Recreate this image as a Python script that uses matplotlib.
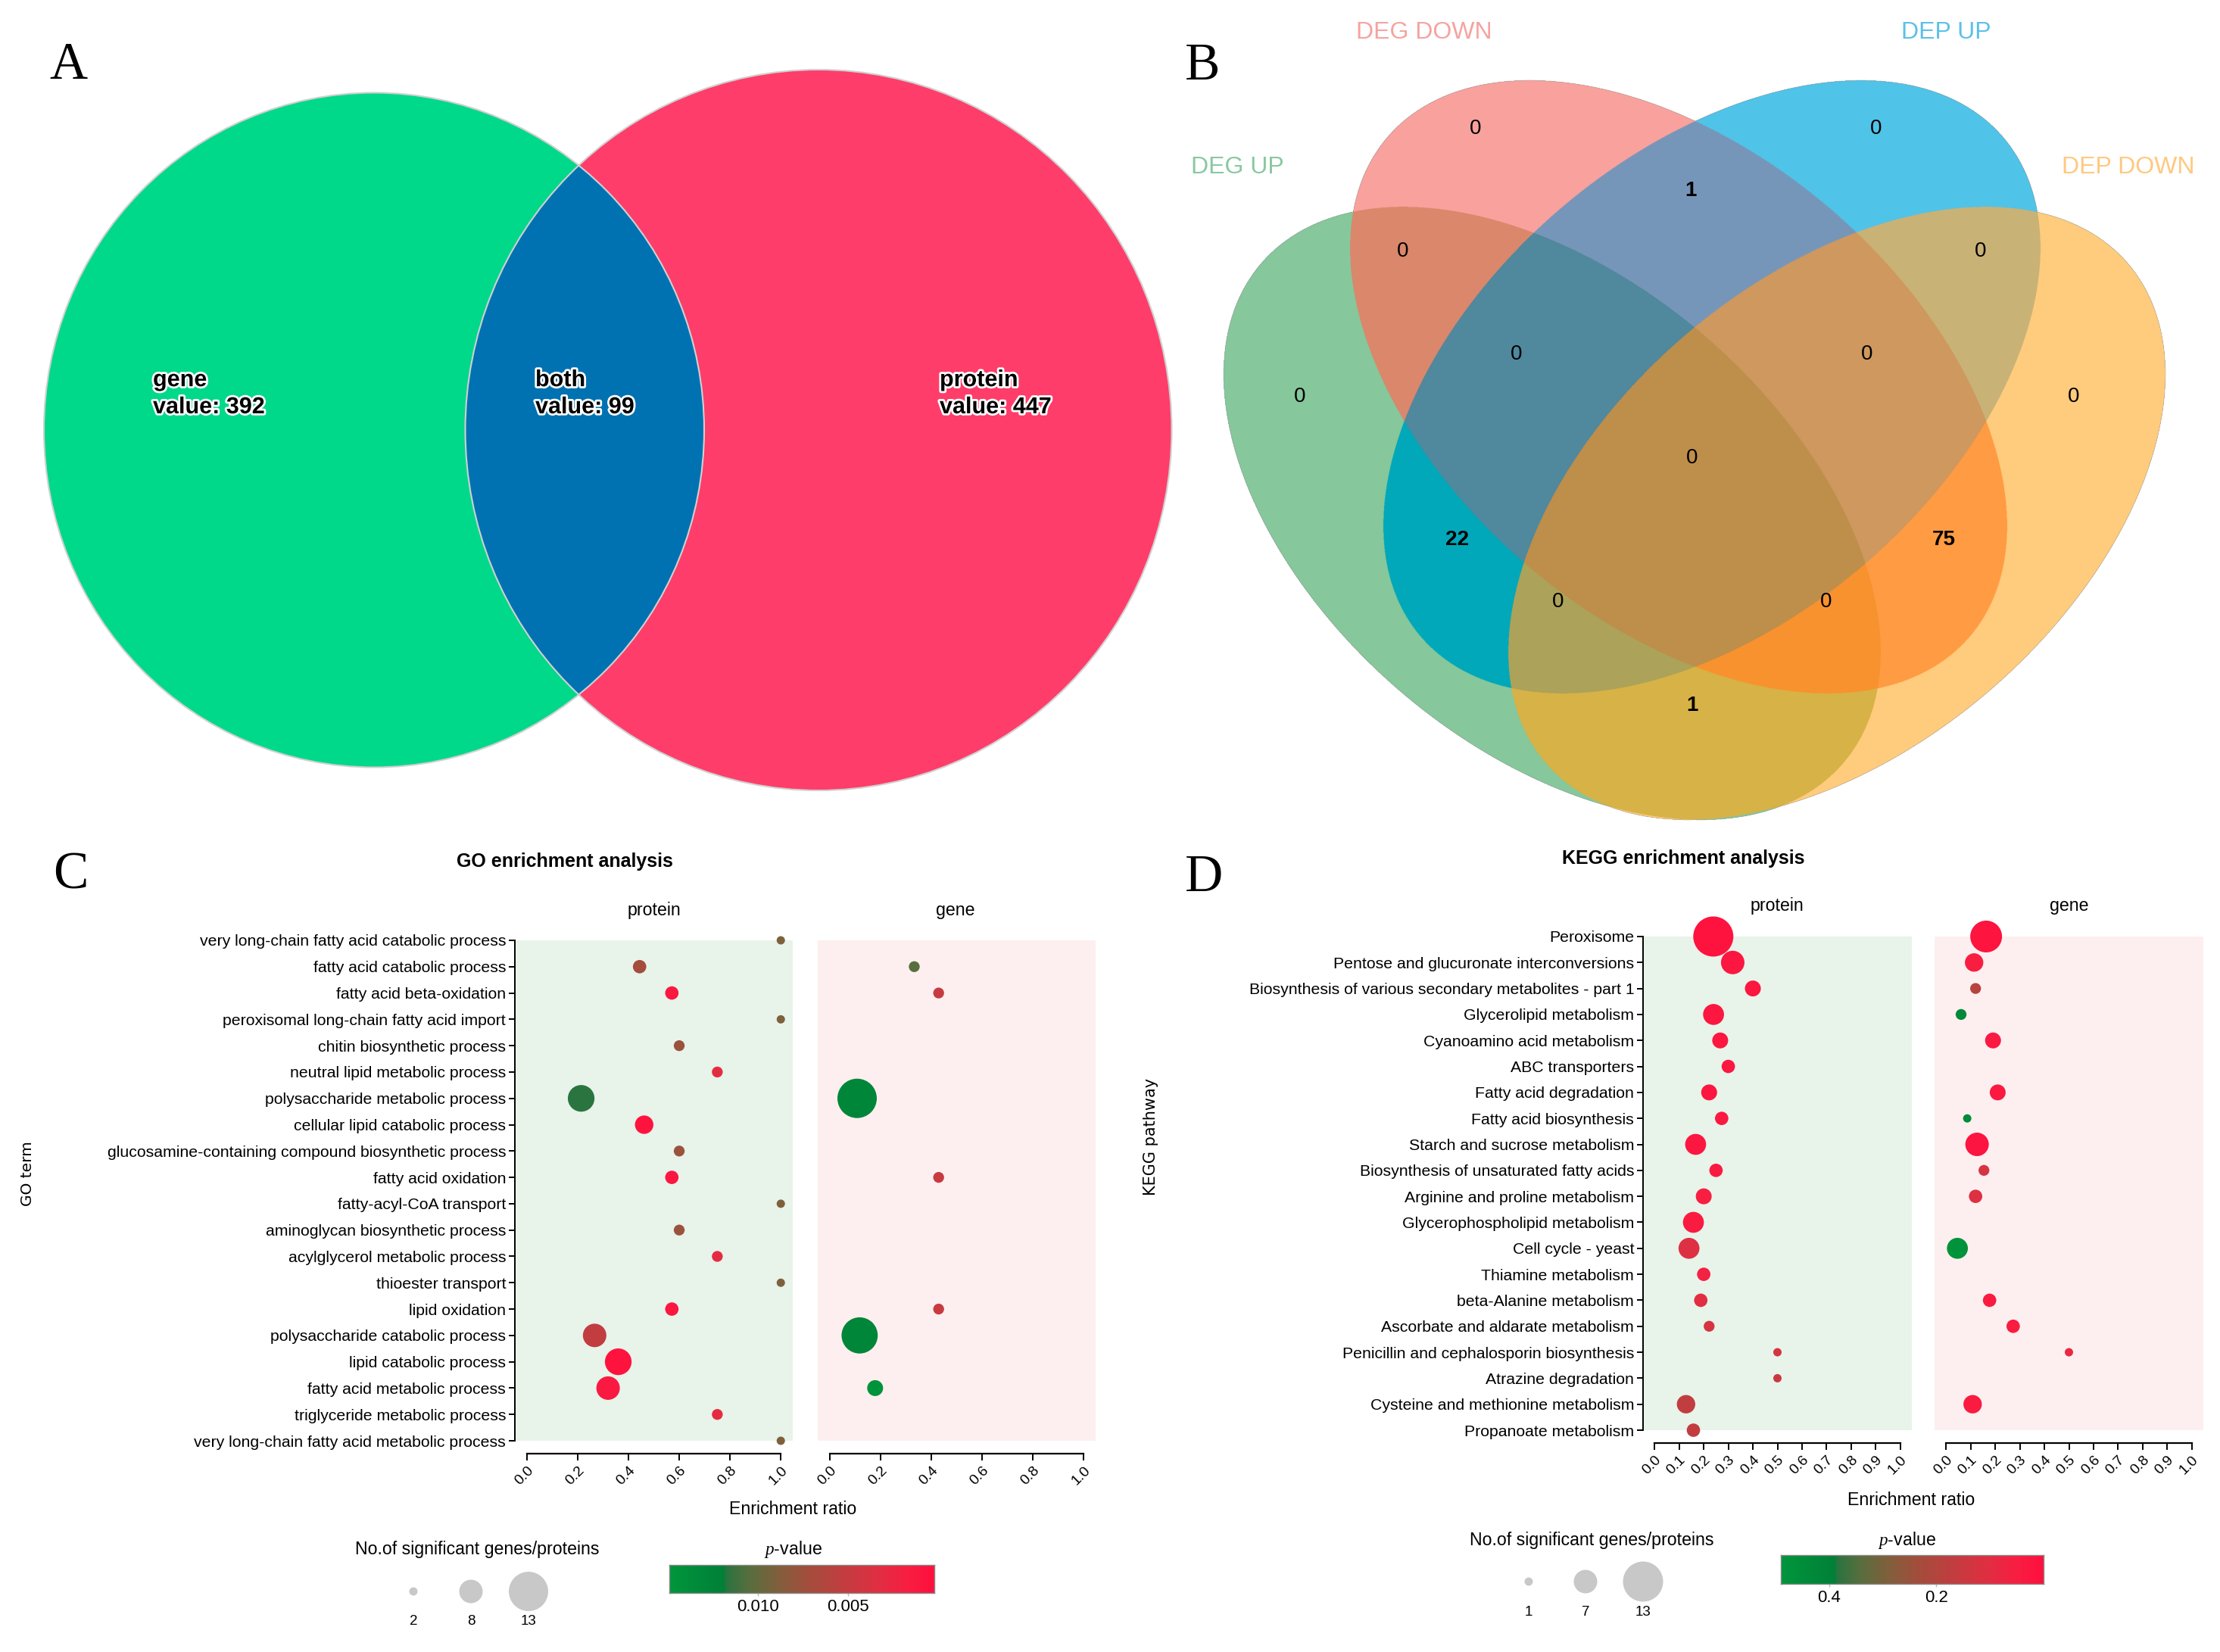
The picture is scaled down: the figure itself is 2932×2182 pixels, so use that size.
import numpy as np
import matplotlib.pyplot as plt
import matplotlib.patheffects as pe
from matplotlib.patches import Ellipse
from matplotlib.colors import LinearSegmentedColormap, Normalize, to_rgba

plt.rcParams['font.family'] = ['Liberation Sans', 'DejaVu Sans']
plt.rcParams['mathtext.fontset'] = 'custom'
plt.rcParams['mathtext.it'] = 'Liberation Serif:italic'
plt.rcParams['mathtext.rm'] = 'Liberation Sans'

W, H, DPI = 2932, 2182, 100

# ---------------- data ----------------
# A: gene / protein overlap
venn2_names = ['gene', 'both', 'protein']
venn2_values = [392, 99, 447]

# B: four-set venn, membership order = DEG UP, DEG DOWN, DEP UP, DEP DOWN
venn4_sets = ['DEG UP', 'DEG DOWN', 'DEP UP', 'DEP DOWN']
venn4_regions = ['1000', '0100', '0010', '0001', '1100', '1010', '1001', '0110',
                 '0101', '0011', '1110', '1101', '1011', '0111', '1111']
venn4_counts = [0, 0, 0, 0, 0, 22, 1, 1, 75, 0, 0, 0, 0, 0, 0]

# C: GO enrichment
go_terms = ['very long-chain fatty acid catabolic process', 'fatty acid catabolic process',
            'fatty acid beta-oxidation', 'peroxisomal long-chain fatty acid import',
            'chitin biosynthetic process', 'neutral lipid metabolic process',
            'polysaccharide metabolic process', 'cellular lipid catabolic process',
            'glucosamine-containing compound biosynthetic process', 'fatty acid oxidation',
            'fatty-acyl-CoA transport', 'aminoglycan biosynthetic process',
            'acylglycerol metabolic process', 'thioester transport', 'lipid oxidation',
            'polysaccharide catabolic process', 'lipid catabolic process',
            'fatty acid metabolic process', 'triglyceride metabolic process',
            'very long-chain fatty acid metabolic process']
nan = np.nan
go_prot_ratio = [1.0, 0.444, 0.571, 1.0, 0.6, 0.75, 0.214, 0.462, 0.6, 0.571,
                 1.0, 0.6, 0.75, 1.0, 0.571, 0.267, 0.36, 0.32, 0.75, 1.0]
go_prot_count = [2, 4, 4, 2, 3, 3, 9, 6, 3, 4, 2, 3, 3, 2, 4, 8, 9, 8, 3, 2]
go_prot_p = [0.0090, 0.0071, 0.0009, 0.0090, 0.0076, 0.0031, 0.0117, 0.0005, 0.0076, 0.0009,
             0.0090, 0.0076, 0.0031, 0.0090, 0.0009, 0.0053, 0.0005, 0.0012, 0.0031, 0.0090]
go_gene_ratio = [nan, 0.333, 0.429, nan, nan, nan, 0.108, nan, nan, 0.429,
                 nan, nan, nan, nan, 0.429, 0.118, nan, 0.179, nan, nan]
go_gene_count = [nan, 3, 3, nan, nan, nan, 13, nan, nan, 3,
                 nan, nan, nan, nan, 3, 12, nan, 5, nan, nan]
go_gene_p = [nan, 0.0105, 0.0049, nan, nan, nan, 0.0127, nan, nan, 0.0049,
             nan, nan, nan, nan, 0.0049, 0.0127, nan, 0.0145, nan, nan]
go_p_range = (0.0002, 0.0149)
go_size_breaks = [2, 8, 13]

# D: KEGG enrichment
kegg_terms = ['Peroxisome', 'Pentose and glucuronate interconversions',
              'Biosynthesis of various secondary metabolites - part 1', 'Glycerolipid metabolism',
              'Cyanoamino acid metabolism', 'ABC transporters', 'Fatty acid degradation',
              'Fatty acid biosynthesis', 'Starch and sucrose metabolism',
              'Biosynthesis of unsaturated fatty acids', 'Arginine and proline metabolism',
              'Glycerophospholipid metabolism', 'Cell cycle - yeast', 'Thiamine metabolism',
              'beta-Alanine metabolism', 'Ascorbate and aldarate metabolism',
              'Penicillin and cephalosporin biosynthesis', 'Atrazine degradation',
              'Cysteine and methionine metabolism', 'Propanoate metabolism']
kegg_prot_ratio = [0.239, 0.318, 0.4, 0.24, 0.267, 0.3, 0.222, 0.273, 0.167, 0.25,
                   0.2, 0.158, 0.14, 0.2, 0.188, 0.222, 0.5, 0.5, 0.128, 0.158]
kegg_prot_count = [13, 7, 4, 6, 4, 3, 4, 3, 6, 3, 4, 6, 6, 3, 3, 2, 1, 1, 5, 3]
kegg_prot_p = [0.010, 0.025, 0.025, 0.025, 0.025, 0.030, 0.025, 0.035, 0.025, 0.035,
               0.050, 0.040, 0.110, 0.060, 0.100, 0.130, 0.130, 0.150, 0.170, 0.170]
kegg_gene_ratio = [0.163, 0.114, 0.12, 0.061, 0.191, nan, 0.21, 0.086, 0.126, 0.154,
                   0.12, nan, 0.046, nan, 0.177, 0.273, 0.5, nan, 0.108, nan]
kegg_gene_count = [10, 5, 2, 2, 4, nan, 4, 1, 7, 2, 3, nan, 6, nan, 3, 3, 1, nan, 5, nan]
kegg_gene_p = [0.015, 0.050, 0.190, 0.430, 0.035, nan, 0.035, 0.440, 0.020, 0.130,
               0.110, nan, 0.475, nan, 0.040, 0.040, 0.080, nan, 0.040, nan]
kegg_p_range = (0.0, 0.49)
kegg_size_breaks = [1, 7, 13]

# ---------------- styles ----------------
venn4_colors = {'1000': '#86C79B', '0100': '#F9A19C', '0010': '#50C3E8', '0001': '#FFCB7D',
                '1100': '#DA876C', '1010': '#00A8B9', '1001': '#D7B246', '0110': '#7696B9',
                '0101': '#FF9B42', '0011': '#C9B276', '1110': '#50889D', '1101': '#F8922E',
                '1011': '#ACA25A', '0111': '#CE985E', '1111': '#BE8E4B'}
venn4_label_pos = {'1000': (1717, 524), '0100': (1949, 170), '0010': (2478, 170),
                   '0001': (2739, 524), '1100': (1853, 332), '1010': (1925, 713),
                   '1001': (2235, 932), '0110': (2233, 252), '0101': (2567, 713),
                   '0011': (2616, 332), '1110': (2003, 468), '1101': (2412, 795),
                   '1011': (2058, 795), '0111': (2466, 468), '1111': (2235, 605)}
set_label_pos = [(1634, 221), (1881, 43), (2570, 43), (2811, 221)]
set_label_col = ['#88C8A0', '#F5A3A0', '#5CC0E8', '#FFC880']

# p-value colour scale, from high p (green) to low p (red)
bar_stops = [(0.0, '#00963C'), (0.20, '#008038'), (0.215, '#2A7440'), (0.30, '#586E3E'),
             (0.42, '#845E3C'), (0.52, '#A24E3C'), (0.65, '#C03E40'), (0.78, '#DE3042'),
             (0.90, '#F81E42'), (1.0, '#FF103E')]
cmap = LinearSegmentedColormap.from_list('pv', [(1 - t, c) for t, c in bar_stops[::-1]])

fig = plt.figure(figsize=(W / DPI, H / DPI), dpi=DPI)
ov = fig.add_axes([0, 0, 1, 1])
ov.axis('off')


def fx(x):
    return x / W


def fy(y):
    return 1 - y / H


# ---------------- A ----------------
gA = Ellipse((494, 568), 872, 891, fc='#00D98A', ec='none', zorder=1)
rA = Ellipse((1081, 568), 933, 952, fc='#FF3D6A', ec='none', zorder=1)
ov.add_patch(gA)
ov.add_patch(rA)
lens = Ellipse((1081, 568), 933, 952, fc='#0072B2', ec='none', zorder=2)
ov.add_patch(lens)
lens.set_clip_path(gA)
for c, w_, h_ in [((494, 568), 872, 891), ((1081, 568), 933, 952)]:
    ov.add_patch(Ellipse(c, w_, h_, fc='none', ec='#D0D0D0', lw=1.5, zorder=3))
for name, val, x in zip(venn2_names, venn2_values, [202, 707, 1241]):
    ov.text(x, 520, f'{name}\nvalue: {val}', ha='left', va='center', fontsize=22,
            fontweight='bold', linespacing=1.25, zorder=5,
            path_effects=[pe.withStroke(linewidth=4, foreground='white')])

# ---------------- B ----------------
centers = [(2050, 678), (2217, 511), (2261, 511), (2426, 678)]
angles = [40.65, 40.65, -40.65, -40.65]
semi_a, semi_b = 506.6, 309.0
xs = (np.arange(1560, 2932, 0.5) + 0.25).astype(np.float32)
ys = (np.arange(0, 1100, 0.5) + 0.25).astype(np.float32)
X, Y = np.meshgrid(xs, ys)
code = np.zeros(X.shape, dtype=np.int8)
for k, ((cx, cy), ang) in enumerate(zip(centers, angles)):
    t = np.deg2rad(ang)
    u = (X - cx) * np.cos(t) + (Y - cy) * np.sin(t)
    v = -(X - cx) * np.sin(t) + (Y - cy) * np.cos(t)
    code += (((u / semi_a) ** 2 + (v / semi_b) ** 2) <= 1).astype(np.int8) << (3 - k)
rgba = np.zeros(X.shape + (4,), dtype=np.uint8)
for reg in venn4_regions:
    rgba[code == int(reg, 2)] = (np.array(to_rgba(venn4_colors[reg])) * 255).astype(np.uint8)
ov.imshow(rgba, extent=(1560, 2932, 1100, 0), interpolation='antialiased', aspect='auto', zorder=1)

for name, (x, y), col in zip(venn4_sets, set_label_pos, set_label_col):
    ov.text(x, y, name, ha='center', va='center', fontsize=23, color=col)
for reg, n in zip(venn4_regions, venn4_counts):
    x, y = venn4_label_pos[reg]
    ov.text(x, y, str(n), ha='center', va='center', fontsize=20,
            fontweight='bold' if n > 0 else 'normal', zorder=5)

ov.set_xlim(0, W)
ov.set_ylim(H, 0)

for letter, (x, y) in zip('ABCD', [(90, 87), (1588, 88), (93, 1157), (1590, 1160)]):
    ov.text(x, y, letter, ha='center', va='center', fontsize=50, family='Liberation Serif')


# ---------------- C / D ----------------
def dot_axes(rect, ratio, count, pval, bg, norm, breaks, diams, ticks, labels=None):
    ax = fig.add_axes(rect)
    ax.set_facecolor('none')
    ratio = np.array(ratio, dtype=float)
    count = np.array(count, dtype=float)
    pval = np.array(pval, dtype=float)
    rows = np.arange(1, len(ratio) + 1)
    ok = ~np.isnan(ratio)
    d_pt = np.interp(count[ok], breaks, diams) * 72 / DPI
    ax.axhspan(1, len(ratio), color=bg, lw=0, zorder=0)
    ax.scatter(ratio[ok], rows[ok], s=d_pt ** 2, c=pval[ok], cmap=cmap, norm=norm,
               edgecolors='none', zorder=3, clip_on=False)
    ax.set_xlim(-0.047, 1.047)
    ax.set_ylim(len(ratio) + 0.5, 0.5)
    for s in ['top', 'right']:
        ax.spines[s].set_visible(False)
    ax.spines['bottom'].set_bounds(0, 1)
    ax.spines['bottom'].set_linewidth(1.6)
    ax.set_xticks(ticks)
    ax.set_xticklabels([f'{t:.1f}' for t in ticks], rotation=45, ha='right',
                       rotation_mode='anchor')
    ax.tick_params(axis='x', length=6.5, width=1.4, labelsize=14, pad=3)
    if labels is None:
        ax.spines['left'].set_visible(False)
        ax.set_yticks([])
    else:
        ax.spines['left'].set_bounds(1, len(ratio))
        ax.spines['left'].set_linewidth(1.4)
        ax.set_yticks(rows)
        ax.set_yticklabels(labels)
        ax.tick_params(axis='y', length=6, width=1.4, labelsize=15.3, pad=2.5)
    return ax


go_norm = Normalize(*go_p_range)
kegg_norm = Normalize(*kegg_p_range)
go_diams = [11, 31, 52]
kegg_diams = [11, 31, 53]
c_rect_y = [fy(1920.4), 695.8 / H]
d_rect_y = [fy(1906.2), 686.4 / H]

dot_axes([fx(680), c_rect_y[0], 367 / W, c_rect_y[1]], go_prot_ratio, go_prot_count, go_prot_p,
         '#E8F3EA', go_norm, go_size_breaks, go_diams, np.arange(0, 1.01, 0.2), go_terms)
dot_axes([fx(1080), c_rect_y[0], 367 / W, c_rect_y[1]], go_gene_ratio, go_gene_count, go_gene_p,
         '#FDEFEF', go_norm, go_size_breaks, go_diams, np.arange(0, 1.01, 0.2))
dot_axes([fx(2170), d_rect_y[0], 355 / W, d_rect_y[1]], kegg_prot_ratio, kegg_prot_count, kegg_prot_p,
         '#E8F3EA', kegg_norm, kegg_size_breaks, kegg_diams, np.round(np.arange(0, 1.01, 0.1), 1),
         kegg_terms)
dot_axes([fx(2555), d_rect_y[0], 355 / W, d_rect_y[1]], kegg_gene_ratio, kegg_gene_count, kegg_gene_p,
         '#FDEFEF', kegg_norm, kegg_size_breaks, kegg_diams, np.round(np.arange(0, 1.01, 0.1), 1))

# titles and labels
txt = [('GO enrichment analysis', 746, 1138, 18, 'bold'),
       ('KEGG enrichment analysis', 2223, 1134, 18, 'bold'),
       ('protein', 864, 1203, 16.7, 'normal'), ('gene', 1262, 1203, 16.7, 'normal'),
       ('protein', 2347, 1197, 16.7, 'normal'), ('gene', 2733, 1197, 16.7, 'normal'),
       ('Enrichment ratio', 1047, 1994, 16.7, 'normal'),
       ('Enrichment ratio', 2524, 1981, 16.7, 'normal'),
       ('No.of significant genes/proteins', 630, 2047, 16.7, 'normal'),
       ('No.of significant genes/proteins', 2102, 2034, 16.7, 'normal'),
       ('$p$-value', 1047, 2047, 16.7, 'normal'),
       ('$p$-value', 2518, 2034, 16.7, 'normal')]
for s, x, y, fs, fw in txt:
    fig.text(fx(x), fy(y), s, ha='center', va='center', fontsize=fs, fontweight=fw)
fig.text(fx(37), fy(1550), 'GO term', rotation=90, ha='center', va='center',
         fontsize=14.5, family='DejaVu Sans')
fig.text(fx(1520), fy(1501), 'KEGG pathway', rotation=90, ha='center', va='center',
         fontsize=15, family='DejaVu Sans')

# size legends
for breaks, diams, xs_, yc, yl in [(go_size_breaks, go_diams, [546, 622, 698], 2102, 2141),
                                   (kegg_size_breaks, kegg_diams, [2019, 2094, 2170], 2089, 2129)]:
    ov.scatter(xs_, [yc] * 3, s=(np.array(diams) * 72 / DPI) ** 2, c='#C8C8C8',
               edgecolors='none', zorder=4)
    for x, b in zip(xs_, breaks):
        ov.text(x, yl, str(b), ha='center', va='center', fontsize=13.5)
ov.set_xlim(0, W)
ov.set_ylim(H, 0)


# p-value bars
def p_bar(rect, prange, ticks, labels):
    cax = fig.add_axes(rect)
    pmin, pmax = prange
    grad = np.linspace(pmax, pmin, 400)[None, :]
    cax.imshow(grad, extent=(pmax, pmin, 0, 1), aspect='auto', cmap=cmap,
               norm=Normalize(pmin, pmax), interpolation='bilinear')
    cax.set_xlim(pmax, pmin)
    cax.set_ylim(0, 1)
    cax.set_yticks([])
    cax.set_xticks(ticks)
    cax.set_xticklabels(labels)
    cax.tick_params(axis='x', length=3, width=1, color='#BBBBBB', labelsize=16, pad=3)
    for s in cax.spines.values():
        s.set_edgecolor('#888888')
        s.set_linewidth(1)


p_bar([fx(884), fy(2104), 350 / W, 37 / H], go_p_range, [0.010, 0.005], ['0.010', '0.005'])
p_bar([fx(2352), fy(2092), 347 / W, 38 / H], kegg_p_range, [0.4, 0.2], ['0.4', '0.2'])

fig.savefig('out.png', dpi=DPI)
